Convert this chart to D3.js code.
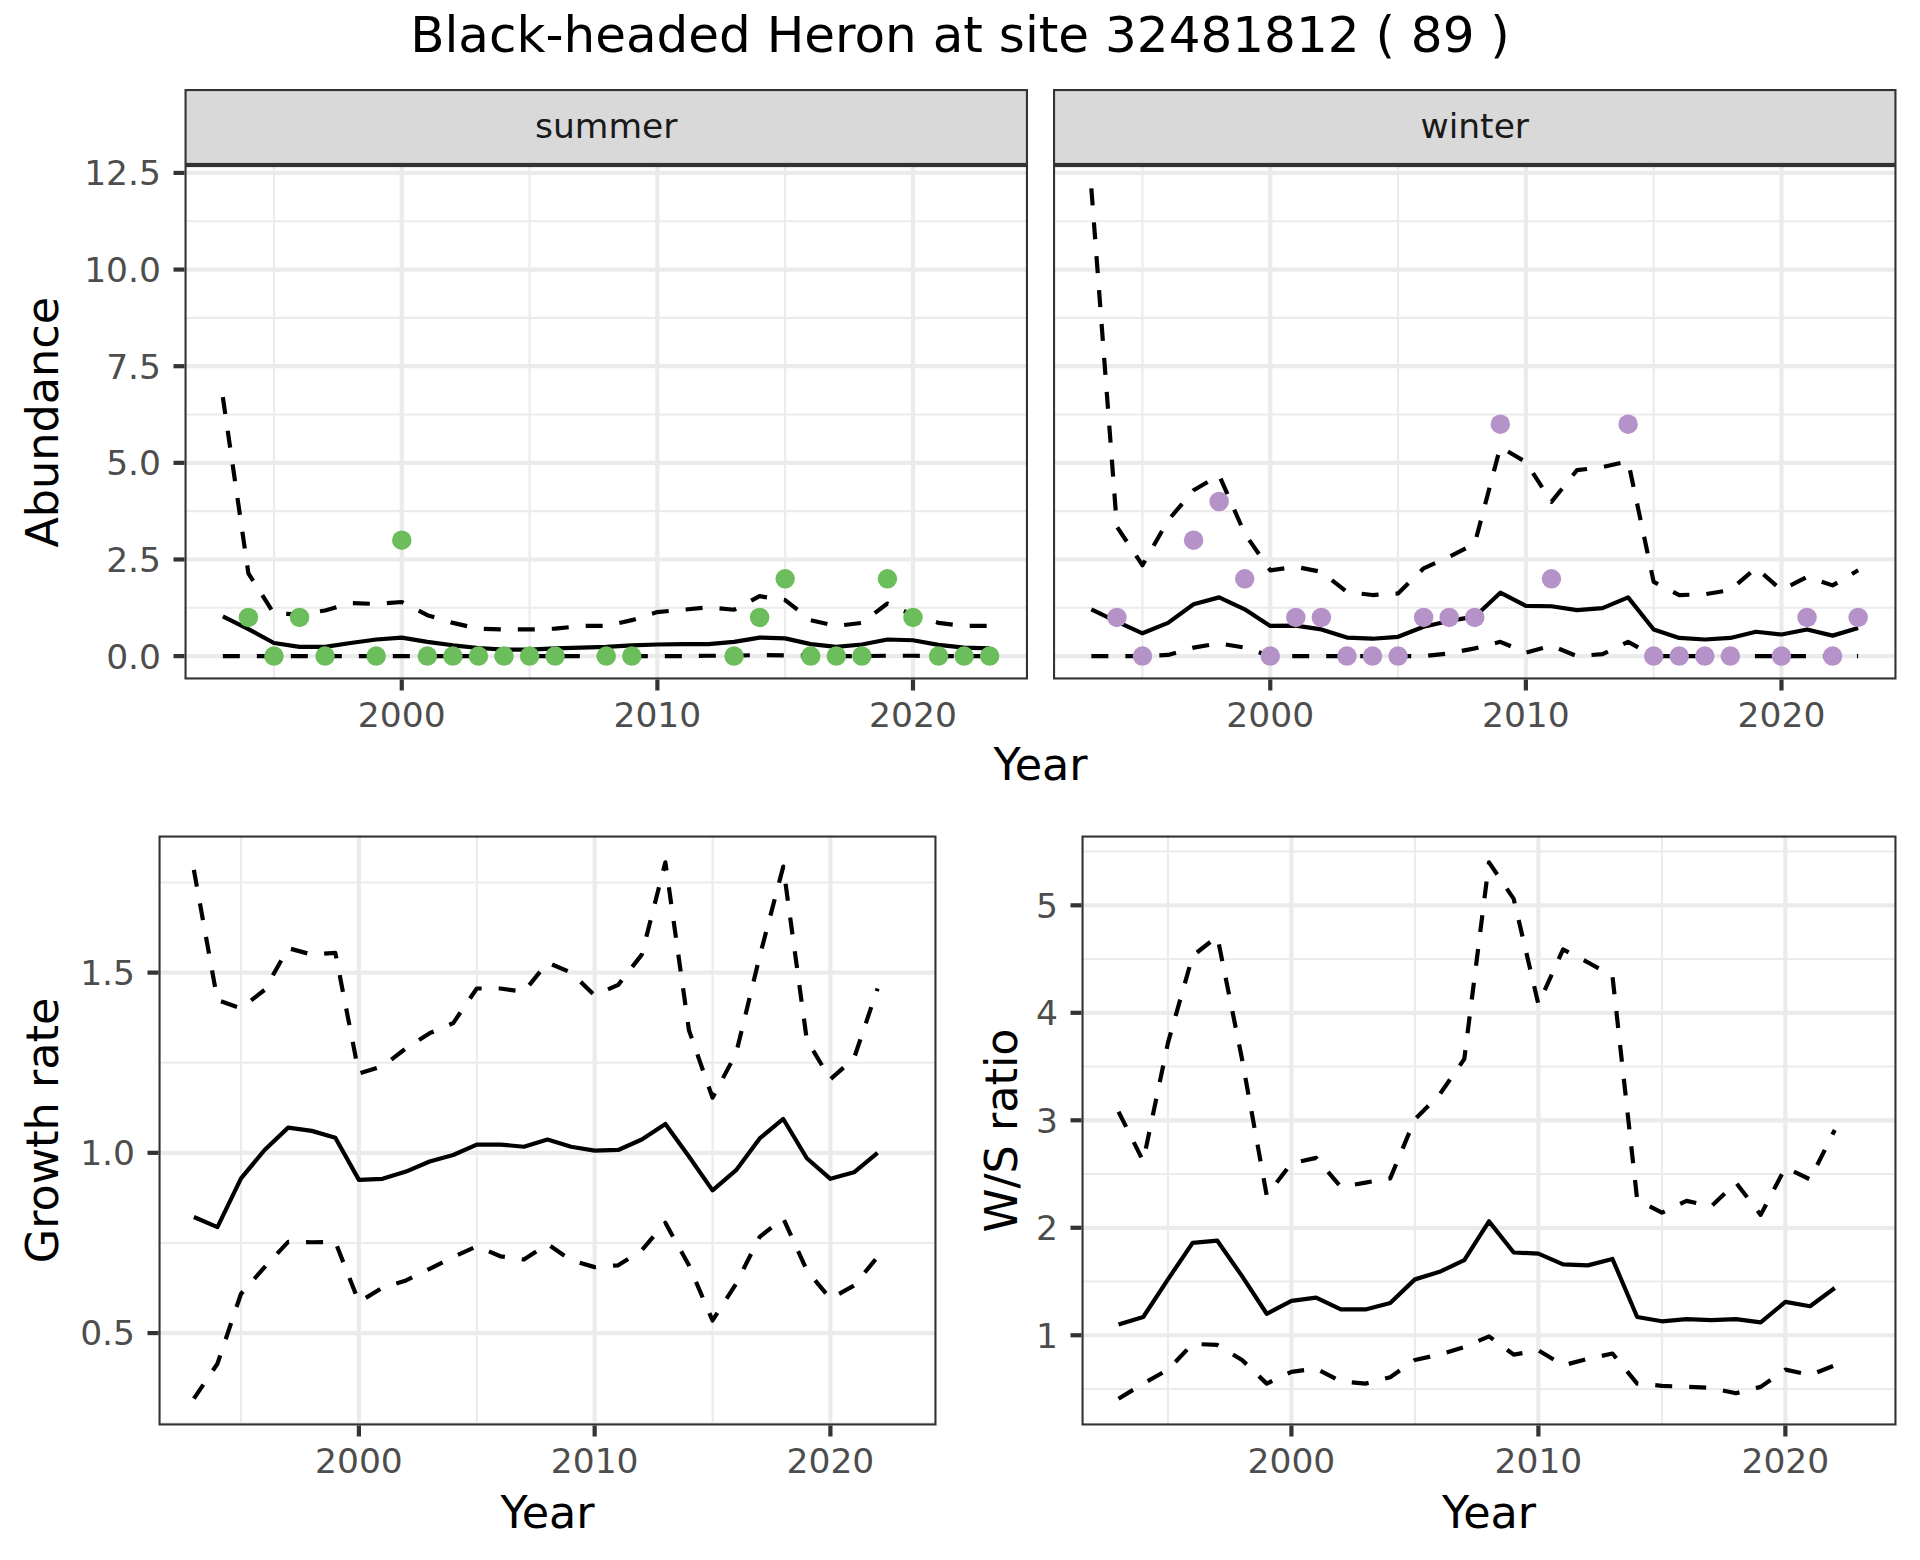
<!DOCTYPE html>
<html><head><meta charset="utf-8">
<script src="https://cdn.jsdelivr.net/npm/d3@7"></script>
<style>html,body{margin:0;padding:0;background:#fff;} svg{display:block;font-family:"DejaVu Sans",sans-serif;}</style>
</head><body><svg id="chart" width="1920" height="1560"></svg>
<script>
// ---------- DATA ----------
const title = "Black-headed Heron at site 32481812 ( 89 )";
const seasons = ["summer", "winter"];
const yearsAbund = [1993,1994,1995,1996,1997,1998,1999,2000,2001,2002,2003,2004,2005,2006,2007,2008,2009,2010,2011,2012,2013,2014,2015,2016,2017,2018,2019,2020,2021,2022,2023];
const summerMean  = [1.03,0.70,0.34,0.24,0.24,0.34,0.43,0.48,0.37,0.28,0.21,0.17,0.17,0.20,0.22,0.24,0.28,0.30,0.31,0.31,0.37,0.48,0.46,0.31,0.24,0.30,0.43,0.41,0.29,0.22,0.20];
const summerUpper = [6.70,2.14,1.10,1.08,1.18,1.37,1.35,1.40,1.06,0.86,0.71,0.69,0.69,0.71,0.78,0.78,0.93,1.14,1.20,1.26,1.20,1.55,1.45,0.93,0.78,0.86,1.36,1.06,0.86,0.78,0.78];
const summerLower = [0.00,0.00,0.00,0.00,0.00,0.00,0.00,0.00,0.00,0.00,0.00,0.00,0.00,0.00,0.00,0.00,0.00,0.00,0.00,0.01,0.01,0.03,0.02,0.01,0.00,0.00,0.01,0.01,0.00,0.00,0.00];
const winterMean  = [1.21,0.89,0.59,0.86,1.34,1.52,1.21,0.78,0.79,0.69,0.48,0.45,0.50,0.76,0.91,1.02,1.64,1.30,1.29,1.19,1.24,1.52,0.69,0.47,0.43,0.47,0.63,0.56,0.69,0.53,0.73];
const winterUpper = [12.10,3.35,2.35,3.51,4.29,4.68,3.17,2.22,2.31,2.18,1.66,1.58,1.62,2.27,2.57,2.91,5.41,5.02,3.99,4.81,4.89,5.04,1.92,1.58,1.60,1.71,2.28,1.71,2.05,1.83,2.22];
const winterLower = [0.00,0.00,0.00,0.03,0.22,0.33,0.22,0.00,0.00,0.00,0.00,0.00,0.00,0.00,0.07,0.20,0.37,0.09,0.27,0.00,0.05,0.37,0.00,0.00,0.00,0.00,0.00,0.00,0.00,0.00,0.00];
const summerObsYears = [1994,1995,1996,1997,1999,2000,2001,2002,2003,2004,2005,2006,2008,2009,2013,2014,2015,2016,2017,2018,2019,2020,2021,2022,2023];
const summerObs      = [1,0,1,0,0,3,0,0,0,0,0,0,0,0,0,1,2,0,0,0,2,1,0,0,0];
const winterObsYears = [1994,1995,1997,1998,1999,2000,2001,2002,2003,2004,2005,2006,2007,2008,2009,2011,2014,2015,2016,2017,2018,2020,2021,2022,2023];
const winterObs      = [1,0,3,4,2,0,1,1,0,0,0,1,1,1,6,2,6,0,0,0,0,0,1,0,1];

const yearsRatio = [1993,1994,1995,1996,1997,1998,1999,2000,2001,2002,2003,2004,2005,2006,2007,2008,2009,2010,2011,2012,2013,2014,2015,2016,2017,2018,2019,2020,2021,2022];
const growthMean  = [0.822,0.794,0.929,1.008,1.070,1.061,1.042,0.925,0.928,0.948,0.976,0.994,1.023,1.023,1.017,1.037,1.017,1.006,1.008,1.037,1.080,0.990,0.896,0.952,1.040,1.094,0.985,0.928,0.946,1.000];
const growthUpper = [1.785,1.424,1.401,1.452,1.568,1.550,1.555,1.220,1.240,1.290,1.332,1.360,1.456,1.456,1.447,1.528,1.500,1.437,1.466,1.550,1.806,1.340,1.153,1.276,1.545,1.794,1.313,1.204,1.262,1.456];
const growthLower = [0.318,0.415,0.609,0.683,0.753,0.752,0.753,0.586,0.626,0.646,0.678,0.711,0.741,0.713,0.704,0.747,0.702,0.683,0.688,0.730,0.806,0.688,0.535,0.637,0.767,0.818,0.674,0.595,0.632,0.711];
const wsMean  = [1.10,1.17,1.52,1.86,1.88,1.55,1.20,1.32,1.35,1.24,1.24,1.30,1.52,1.59,1.70,2.06,1.77,1.76,1.66,1.65,1.71,1.17,1.13,1.15,1.14,1.15,1.12,1.31,1.27,1.44];
const wsUpper = [3.08,2.62,3.72,4.53,4.71,3.57,2.30,2.60,2.65,2.38,2.42,2.46,3.01,3.24,3.57,5.40,5.06,4.08,4.59,4.47,4.34,2.26,2.14,2.25,2.20,2.42,2.12,2.56,2.45,2.91];
const wsLower = [0.41,0.55,0.68,0.92,0.91,0.77,0.55,0.66,0.69,0.57,0.55,0.61,0.77,0.82,0.89,0.99,0.82,0.86,0.72,0.78,0.83,0.55,0.53,0.52,0.51,0.46,0.52,0.68,0.63,0.72];

const xMajor = [2000, 2010, 2020];
const xMinor = [1995, 2005, 2015];
const abundMajor = [0, 2.5, 5, 7.5, 10, 12.5];
const abundMinor = [1.25, 3.75, 6.25, 8.75, 11.25];
const growthMajor = [0.5, 1.0, 1.5];
const growthMinor = [0.25, 0.75, 1.25, 1.75];
const wsMajor = [1, 2, 3, 4, 5];
const wsMinor = [0.5, 1.5, 2.5, 3.5, 4.5, 5.5];
const seasonColors = {summer: "#6cbd5b", winter: "#b592c8"};

// ---------- DRAWING ----------
const svg = d3.select("#chart");
svg.append("rect").attr("width", 1920).attr("height", 1560).attr("fill", "#ffffff");
const defs = svg.append("defs");

const LW = 4.2, TICK = 11, TICKFS = 34.5, TITLEFS = 44.5;
function expand(ext) { const r = ext[1] - ext[0]; return [ext[0] - 0.05 * r, ext[1] + 0.05 * r]; }
const xDomain = expand(d3.extent(yearsAbund));

let clipId = 0;
function panel(o) {
  const g = svg.append("g");
  const x = d3.scaleLinear().domain(xDomain).range([o.left, o.right]);
  const y = d3.scaleLinear().domain(o.yDomain).range([o.bottom, o.top]);
  g.append("rect").attr("x", o.left).attr("y", o.top).attr("width", o.right - o.left).attr("height", o.bottom - o.top).attr("fill", "#fff");
  const grid = g.append("g");
  grid.selectAll(".ymin").data(o.yMinor.filter(v => v > o.yDomain[0] && v < o.yDomain[1])).join("line")
    .attr("x1", o.left).attr("x2", o.right).attr("y1", d => y(d)).attr("y2", d => y(d))
    .attr("stroke", "#ebebeb").attr("stroke-width", LW / 2);
  grid.selectAll(".xmin").data(xMinor).join("line")
    .attr("y1", o.top).attr("y2", o.bottom).attr("x1", d => x(d)).attr("x2", d => x(d))
    .attr("stroke", "#ebebeb").attr("stroke-width", LW / 2);
  grid.selectAll(".ymaj").data(o.yMajor).join("line")
    .attr("x1", o.left).attr("x2", o.right).attr("y1", d => y(d)).attr("y2", d => y(d))
    .attr("stroke", "#ebebeb").attr("stroke-width", LW);
  grid.selectAll(".xmaj").data(xMajor).join("line")
    .attr("y1", o.top).attr("y2", o.bottom).attr("x1", d => x(d)).attr("x2", d => x(d))
    .attr("stroke", "#ebebeb").attr("stroke-width", LW);

  const cid = "clip" + (clipId++);
  defs.append("clipPath").attr("id", cid).append("rect")
    .attr("x", o.left).attr("y", o.top).attr("width", o.right - o.left).attr("height", o.bottom - o.top);
  const data = g.append("g").attr("clip-path", `url(#${cid})`);
  const line = d3.line().x(d => x(d[0])).y(d => y(d[1]));
  o.series.forEach(s => {
    data.append("path").attr("d", line(d3.zip(s.years, s.values)))
      .attr("fill", "none").attr("stroke", "#000").attr("stroke-width", LW)
      .attr("stroke-linejoin", "round").attr("stroke-linecap", "butt")
      .attr("stroke-dasharray", s.dashed ? "17,17" : null);
  });
  if (o.points) {
    data.selectAll("circle").data(d3.zip(o.points.years, o.points.values)).join("circle")
      .attr("cx", d => x(d[0])).attr("cy", d => y(d[1])).attr("r", 9.75).attr("fill", o.points.color);
  }
  // border
  g.append("rect").attr("x", o.left + 1.05).attr("y", o.top + 1.05)
    .attr("width", o.right - o.left - 2.1).attr("height", o.bottom - o.top - 2.1)
    .attr("fill", "none").attr("stroke", "#333333").attr("stroke-width", 2.1);
  // x axis
  const ax = g.append("g");
  ax.selectAll("line").data(xMajor).join("line")
    .attr("x1", d => x(d)).attr("x2", d => x(d)).attr("y1", o.bottom).attr("y2", o.bottom + TICK)
    .attr("stroke", "#333333").attr("stroke-width", LW);
  ax.selectAll("text").data(xMajor).join("text")
    .attr("x", d => x(d)).attr("y", o.bottom + 47.5).attr("text-anchor", "middle")
    .attr("font-size", TICKFS).attr("fill", "#4d4d4d").text(d => d);
  if (o.yAxis) {
    const ay = g.append("g");
    ay.selectAll("line").data(o.yMajor).join("line")
      .attr("x1", o.left - TICK).attr("x2", o.left).attr("y1", d => y(d)).attr("y2", d => y(d))
      .attr("stroke", "#333333").attr("stroke-width", LW);
    ay.selectAll("text").data(o.yMajor).join("text")
      .attr("x", o.left - TICK - 12.5).attr("y", d => y(d)).attr("dy", "0.36em").attr("text-anchor", "end")
      .attr("font-size", TICKFS).attr("fill", "#4d4d4d").text(d => o.yFormat(d));
  }
  return {x, y};
}

function axisTitle(text, cx, cy, rotate) {
  const t = svg.append("text").attr("text-anchor", "middle").attr("font-size", TITLEFS).attr("fill", "#000").text(text);
  if (rotate) t.attr("transform", `translate(${cx},${cy}) rotate(-90)`);
  else t.attr("x", cx).attr("y", cy);
}

// title
svg.append("text").attr("x", 960).attr("y", 52).attr("text-anchor", "middle")
  .attr("font-size", 50).attr("fill", "#000").text(title);

// top row: abundance facets
const abundDomain = expand(d3.extent([...summerUpper, ...summerLower, ...winterUpper, ...winterLower, ...summerObs, ...winterObs, ...summerMean, ...winterMean]));
const topPanels = [
  {season: "summer", left: 184.5, right: 1028, mean: summerMean, up: summerUpper, lo: summerLower, py: summerObsYears, pv: summerObs, yAxis: true},
  {season: "winter", left: 1053, right: 1896.5, mean: winterMean, up: winterUpper, lo: winterLower, py: winterObsYears, pv: winterObs, yAxis: false}
];
topPanels.forEach(p => {
  // strip
  svg.append("rect").attr("x", p.left + 1.05).attr("y", 89 + 1.05).attr("width", p.right - p.left - 2.1).attr("height", 165 - 89 - 2.1)
    .attr("fill", "#d9d9d9").attr("stroke", "#333333").attr("stroke-width", 2.1);
  svg.append("text").attr("x", (p.left + p.right) / 2).attr("y", 138).attr("text-anchor", "middle")
    .attr("font-size", TICKFS).attr("fill", "#1a1a1a").text(p.season);
  panel({
    left: p.left, right: p.right, top: 165, bottom: 679.5,
    yDomain: abundDomain, yMajor: abundMajor, yMinor: abundMinor, yAxis: p.yAxis, yFormat: d3.format(".1f"),
    series: [
      {years: yearsAbund, values: p.up, dashed: true},
      {years: yearsAbund, values: p.lo, dashed: true},
      {years: yearsAbund, values: p.mean, dashed: false}
    ],
    points: {years: p.py, values: p.pv, color: seasonColors[p.season]}
  });
});
axisTitle("Abundance", 58, (165 + 679.5) / 2, true);
axisTitle("Year", (184.5 + 1896.5) / 2, 780, false);

// bottom-left: growth rate
panel({
  left: 158.5, right: 936.5, top: 835.5, bottom: 1425.5,
  yDomain: expand(d3.extent([...growthUpper, ...growthLower, ...growthMean])),
  yMajor: growthMajor, yMinor: growthMinor, yAxis: true, yFormat: d3.format(".1f"),
  series: [
    {years: yearsRatio, values: growthUpper, dashed: true},
    {years: yearsRatio, values: growthLower, dashed: true},
    {years: yearsRatio, values: growthMean, dashed: false}
  ]
});
axisTitle("Growth rate", 58, (835.5 + 1425.5) / 2, true);
axisTitle("Year", (158.5 + 936.5) / 2, 1528, false);

// bottom-right: W/S ratio
panel({
  left: 1081.5, right: 1896.5, top: 835.5, bottom: 1425.5,
  yDomain: expand(d3.extent([...wsUpper, ...wsLower, ...wsMean])),
  yMajor: wsMajor, yMinor: wsMinor, yAxis: true, yFormat: d3.format("d"),
  series: [
    {years: yearsRatio, values: wsUpper, dashed: true},
    {years: yearsRatio, values: wsLower, dashed: true},
    {years: yearsRatio, values: wsMean, dashed: false}
  ]
});
axisTitle("W/S ratio", 1017, (835.5 + 1425.5) / 2, true);
axisTitle("Year", (1081.5 + 1896.5) / 2, 1528, false);
</script>
</body></html>
